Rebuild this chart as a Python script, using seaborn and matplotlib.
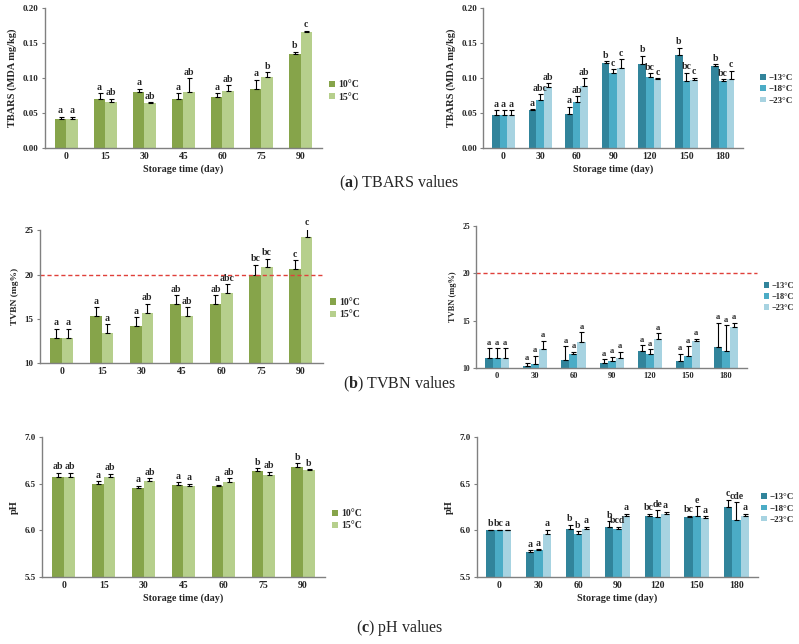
import numpy as np
import pandas as pd
import matplotlib.pyplot as plt
import seaborn as sns

# Storage days and temperatures
days_warm = [0, 15, 30, 45, 60, 75, 90]
days_cold = [0, 30, 60, 90, 120, 150, 180]
temps_warm = ['10°C', '15°C']
temps_cold = ['−13°C', '−18°C', '−23°C']

# TBARS (MDA mg/kg)
tbars_10 = [0.041, 0.071, 0.080, 0.071, 0.073, 0.085, 0.135]
tbars_15 = [0.041, 0.066, 0.064, 0.080, 0.082, 0.102, 0.166]
tbars_10_err = [0.004, 0.008, 0.005, 0.008, 0.006, 0.013, 0.003]
tbars_15_err = [0.004, 0.005, 0.002, 0.020, 0.008, 0.007, 0.002]
tbars_10_let = ['a', 'a', 'a', 'a', 'a', 'a', 'b']
tbars_15_let = ['a', 'ab', 'ab', 'ab', 'ab', 'b', 'c']

tbars_m13 = [0.048, 0.054, 0.049, 0.122, 0.120, 0.133, 0.117]
tbars_m18 = [0.048, 0.069, 0.066, 0.108, 0.102, 0.096, 0.096]
tbars_m23 = [0.048, 0.087, 0.089, 0.114, 0.099, 0.098, 0.099]
tbars_m13_err = [0.006, 0.002, 0.010, 0.002, 0.012, 0.011, 0.003]
tbars_m18_err = [0.006, 0.008, 0.008, 0.005, 0.005, 0.012, 0.003]
tbars_m23_err = [0.006, 0.006, 0.011, 0.013, 0.001, 0.003, 0.012]
tbars_m13_let = ['a', 'a', 'a', 'b', 'b', 'b', 'b']
tbars_m18_let = ['a', 'abc', 'ab', 'c', 'bc', 'bc', 'bc']
tbars_m23_let = ['a', 'ab', 'ab', 'c', 'c', 'c', 'c']

# TVBN (mg%)
tvbn_10 = [12.9, 15.3, 14.2, 16.7, 16.7, 20.0, 20.6]
tvbn_15 = [12.9, 13.4, 15.7, 15.3, 17.9, 20.8, 24.2]
tvbn_10_err = [1.0, 1.0, 1.0, 1.0, 1.0, 1.1, 1.0]
tvbn_15_err = [1.0, 1.0, 1.0, 1.0, 1.0, 1.0, 1.0]
tvbn_10_let = ['a', 'a', 'a', 'ab', 'ab', 'bc', 'c']
tvbn_15_let = ['a', 'a', 'ab', 'ab', 'abc', 'bc', 'c']

tvbn_m13 = [11.1, 10.2, 10.8, 10.5, 11.8, 10.7, 12.2]
tvbn_m18 = [11.1, 10.4, 11.5, 10.7, 11.5, 11.3, 11.8]
tvbn_m23 = [11.1, 12.0, 12.7, 11.1, 13.1, 12.8, 14.3]
tvbn_m13_err = [1.0, 0.3, 1.5, 0.4, 0.6, 0.8, 2.6]
tvbn_m18_err = [1.0, 0.9, 0.2, 0.5, 0.5, 1.0, 2.7]
tvbn_m23_err = [1.0, 0.9, 1.1, 0.6, 0.6, 0.3, 0.5]
tvbn_m13_let = ['a'] * 7
tvbn_m18_let = ['a'] * 7
tvbn_m23_let = ['a'] * 7

# pH
ph_10 = [6.57, 6.50, 6.46, 6.49, 6.48, 6.64, 6.68]
ph_15 = [6.57, 6.57, 6.53, 6.48, 6.52, 6.59, 6.65]
ph_10_err = [0.05, 0.03, 0.02, 0.03, 0.01, 0.03, 0.04]
ph_15_err = [0.05, 0.04, 0.03, 0.02, 0.04, 0.04, 0.01]
ph_10_let = ['ab', 'a', 'a', 'a', 'a', 'b', 'b']
ph_15_let = ['ab', 'ab', 'ab', 'a', 'ab', 'ab', 'b']

ph_m13 = [6.00, 5.77, 6.02, 6.04, 6.16, 6.14, 6.25]
ph_m18 = [6.00, 5.79, 5.96, 6.02, 6.14, 6.16, 6.11]
ph_m23 = [6.00, 5.96, 6.02, 6.15, 6.18, 6.13, 6.16]
ph_m13_err = [0.01, 0.02, 0.04, 0.06, 0.02, 0.02, 0.08]
ph_m18_err = [0.01, 0.01, 0.03, 0.02, 0.08, 0.10, 0.19]
ph_m23_err = [0.01, 0.05, 0.02, 0.03, 0.02, 0.02, 0.02]
ph_m13_let = ['b', 'a', 'b', 'b', 'bc', 'bc', 'c']
ph_m18_let = ['bc', 'a', 'b', 'bcd', 'de', 'e', 'cde']
ph_m23_let = ['a', 'a', 'a', 'a', 'a', 'a', 'a']

GREENS = ['#86a44a', '#b6cf8c']
BLUES = ['#31849b', '#4bacc6', '#a7d3e1']

sns.set_theme(style='white')
plt.rcParams['font.family'] = ['Liberation Serif', 'DejaVu Serif']
plt.rcParams['mathtext.fontset'] = 'custom'
plt.rcParams['mathtext.rm'] = 'Liberation Serif'
plt.rcParams['mathtext.bf'] = 'Liberation Serif:bold'


def draw_panel(ax, days, temps, values, errs, letters, palette, width,
               ylim, yticks, fmt, ylabel, xlabel=None, fs=6.5, legend_y=0.42,
               legend_x=1.0, legend_fs=7, ylabel_fs=7.5):
    df = pd.DataFrame({
        'day': np.repeat(days, len(temps)),
        'temp': temps * len(days),
        'value': [v[i] for i in range(len(days)) for v in values],
    })
    sns.barplot(data=df, x='day', y='value', hue='temp', order=days,
                hue_order=temps, palette=palette, width=width, errorbar=None,
                saturation=1, linewidth=0, ax=ax)
    span = ylim[1] - ylim[0]
    bar_groups = list(ax.containers)
    for k, cont in enumerate(bar_groups):
        for j, bar in enumerate(cont.patches):
            x = bar.get_x() + bar.get_width() / 2
            h = bar.get_height()
            ax.errorbar(x, h, yerr=[[0], [errs[k][j]]], fmt='none',
                        ecolor='black', elinewidth=0.8, capsize=1.8,
                        capthick=0.8)
            ax.text(x, h + errs[k][j] + span * 0.01, letters[k][j],
                    ha='center', va='bottom', fontsize=fs + 0.5,
                    fontweight='bold')
    ax.set_ylim(*ylim)
    ax.set_xlim(-0.55, len(days) - 0.45)
    ax.set_yticks(yticks)
    ax.set_yticklabels([fmt.format(t) for t in yticks], fontsize=fs,
                       fontweight='bold')
    ax.set_xticks(range(len(days)))
    ax.set_xticklabels([str(d) for d in days], fontsize=fs + 0.5,
                       fontweight='bold')
    ax.set_ylabel(ylabel, fontsize=ylabel_fs, fontweight='bold')
    if xlabel:
        ax.set_xlabel(xlabel, fontsize=fs + 0.8, fontweight='bold', labelpad=2)
    else:
        ax.set_xlabel('')
    for s in ['top', 'right']:
        ax.spines[s].set_visible(False)
    for s in ['left', 'bottom']:
        ax.spines[s].set_color('#808080')
        ax.spines[s].set_linewidth(1.0)
    ax.tick_params(axis='y', length=2.5, width=0.8, color='#808080',
                   left=True, pad=2)
    ax.tick_params(axis='x', length=0, pad=3)
    ax.legend(frameon=False, loc='center left',
              bbox_to_anchor=(legend_x, legend_y), handlelength=0.6,
              handleheight=0.6, handletextpad=0.3, labelspacing=0.35,
              borderaxespad=0, borderpad=0.2,
              prop={'family': 'Liberation Serif', 'weight': 'bold',
                    'size': legend_fs})


fig = plt.figure(figsize=(7.99, 6.44), dpi=100)

ax1 = fig.add_axes([0.056, 0.770, 0.347, 0.217])
draw_panel(ax1, days_warm, temps_warm, [tbars_10, tbars_15],
           [tbars_10_err, tbars_15_err], [tbars_10_let, tbars_15_let],
           GREENS, 0.58, (0, 0.20), [0, 0.05, 0.10, 0.15, 0.20], '{:.2f}',
           'TBARS (MDA mg/kg)', 'Storage time (day)', legend_y=0.41,
           legend_x=1.02)

ax2 = fig.add_axes([0.605, 0.770, 0.325, 0.217])
draw_panel(ax2, days_cold, temps_cold, [tbars_m13, tbars_m18, tbars_m23],
           [tbars_m13_err, tbars_m18_err, tbars_m23_err],
           [tbars_m13_let, tbars_m18_let, tbars_m23_let],
           BLUES, 0.63, (0, 0.20), [0, 0.05, 0.10, 0.15, 0.20], '{:.2f}',
           'TBARS (MDA mg/kg)', 'Storage time (day)', legend_y=0.42,
           legend_x=1.06, legend_fs=6.5)

ax3 = fig.add_axes([0.050, 0.436, 0.354, 0.2065])
draw_panel(ax3, days_warm, temps_warm, [tvbn_10, tvbn_15],
           [tvbn_10_err, tvbn_15_err], [tvbn_10_let, tvbn_15_let],
           GREENS, 0.58, (10, 25), [10, 15, 20, 25], '{:d}',
           'TVBN (mg%)', legend_y=0.41, legend_x=1.02, ylabel_fs=6.8)
ax3.axhline(20, color='#e0403a', linestyle=(0, (3, 2)), linewidth=1.0)

ax4 = fig.add_axes([0.596, 0.4286, 0.339, 0.2205])
draw_panel(ax4, days_cold, temps_cold, [tvbn_m13, tvbn_m18, tvbn_m23],
           [tvbn_m13_err, tvbn_m18_err, tvbn_m23_err],
           [tvbn_m13_let, tvbn_m18_let, tvbn_m23_let],
           BLUES, 0.63, (10, 25), [10, 15, 20, 25], '{:d}',
           'TVBN (mg%)', fs=5.5, legend_y=0.5, legend_x=1.055,
           legend_fs=6, ylabel_fs=6)
ax4.axhline(20, xmax=1.035, color='#e0403a', linestyle=(0, (3, 2)),
            linewidth=1.0, clip_on=False)

ax5 = fig.add_axes([0.0526, 0.104, 0.354, 0.217])
draw_panel(ax5, days_warm, temps_warm, [ph_10, ph_15],
           [ph_10_err, ph_15_err], [ph_10_let, ph_15_let],
           GREENS, 0.58, (5.5, 7.0), [5.5, 6.0, 6.5, 7.0], '{:.1f}',
           'pH', 'Storage time (day)', legend_y=0.41, legend_x=1.02)

ax6 = fig.add_axes([0.597, 0.104, 0.352, 0.217])
draw_panel(ax6, days_cold, temps_cold, [ph_m13, ph_m18, ph_m23],
           [ph_m13_err, ph_m18_err, ph_m23_err],
           [ph_m13_let, ph_m18_let, ph_m23_let],
           BLUES, 0.63, (5.5, 7.0), [5.5, 6.0, 6.5, 7.0], '{:.1f}',
           'pH', 'Storage time (day)', legend_y=0.49, legend_x=1.005,
           legend_fs=6.5)

cap_kw = dict(ha='center', va='center', fontsize=11.5)
fig.text(0.5, 1 - 183 / 644, r'($\mathbf{a}$) TBARS values', **cap_kw)
fig.text(0.5, 1 - 384 / 644, r'($\mathbf{b}$) TVBN values', **cap_kw)
fig.text(0.5, 1 - 628 / 644, r'($\mathbf{c}$) pH values', **cap_kw)

fig.savefig('out.png', dpi=100, facecolor='white')
